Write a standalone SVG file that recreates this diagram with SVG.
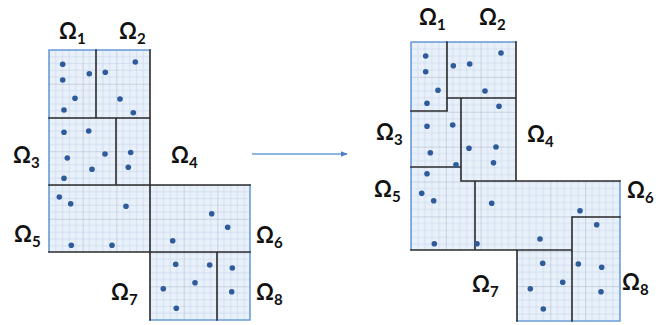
<svg xmlns="http://www.w3.org/2000/svg" width="665" height="325" viewBox="0 0 665 325">
<style>
.lbl{font-family:Lato,"Open Sans","Liberation Sans",sans-serif;font-weight:bold;font-size:22px;fill:#111}
.sub{font-size:15px}
.part{stroke:#2b2b2b;stroke-width:1.6;fill:none;stroke-linecap:square}
.outer{stroke:#6b9fd8;stroke-width:1.6;fill:none;stroke-linecap:square}
.dot{fill:#2f5b9a}
.mn{stroke:#c6d5ea;stroke-width:0.6}
.mj{stroke:#a8b4c5;stroke-width:1}
</style>
<defs>
<pattern id="gl" patternUnits="userSpaceOnUse" x="49" y="50" width="33.67" height="33.75">
<rect width="33.67" height="33.75" fill="#e8f0fa"/>
<g class="mn">
<line x1="6.73" y1="0" x2="6.73" y2="33.75"/><line x1="13.47" y1="0" x2="13.47" y2="33.75"/><line x1="20.2" y1="0" x2="20.2" y2="33.75"/><line x1="26.94" y1="0" x2="26.94" y2="33.75"/>
<line x1="0" y1="6.75" x2="33.67" y2="6.75"/><line x1="0" y1="13.5" x2="33.67" y2="13.5"/><line x1="0" y1="20.25" x2="33.67" y2="20.25"/><line x1="0" y1="27" x2="33.67" y2="27"/>
</g>
<g class="mj"><line x1="0" y1="0" x2="0" y2="33.75"/><line x1="0" y1="0" x2="33.67" y2="0"/></g>
</pattern>
<pattern id="gr" patternUnits="userSpaceOnUse" x="411" y="42" width="34.83" height="34.875">
<rect width="34.83" height="34.875" fill="#e8f0fa"/>
<g class="mn">
<line x1="6.97" y1="0" x2="6.97" y2="34.875"/><line x1="13.93" y1="0" x2="13.93" y2="34.875"/><line x1="20.9" y1="0" x2="20.9" y2="34.875"/><line x1="27.86" y1="0" x2="27.86" y2="34.875"/>
<line x1="0" y1="6.975" x2="34.83" y2="6.975"/><line x1="0" y1="13.95" x2="34.83" y2="13.95"/><line x1="0" y1="20.93" x2="34.83" y2="20.93"/><line x1="0" y1="27.9" x2="34.83" y2="27.9"/>
</g>
<g class="mj"><line x1="0" y1="0" x2="0" y2="34.875"/><line x1="0" y1="0" x2="34.83" y2="0"/></g>
</pattern>
<marker id="ah" viewBox="0 0 10 10" refX="9" refY="5" markerWidth="5" markerHeight="5" orient="auto">
<path d="M0,1 L10,5 L0,9 Z" fill="#4a7fc6"/>
</marker>
</defs>

<g id="before">
<path d="M49,50 H150 V185 H250 V320 H150 V252 H49 Z" fill="url(#gl)"/>
<path class="outer" d="M150,50 H49 V252 M250,185 V320 H150"/>
<path class="part" d="M96,50 V118 M49,118 H150 M116,118 V185 M49,185 H250 M150,50 V320 M49,252 H250 M217,252 V320"/>
<g id="before-dots">
<circle class="dot" cx="62.7" cy="64.3" r="2.8"/><circle class="dot" cx="62.7" cy="80" r="2.8"/><circle class="dot" cx="89.3" cy="73.7" r="2.8"/><circle class="dot" cx="105.3" cy="72.3" r="2.8"/><circle class="dot" cx="135.3" cy="62" r="2.8"/>
<circle class="dot" cx="75" cy="98.3" r="2.8"/><circle class="dot" cx="64" cy="110" r="2.8"/><circle class="dot" cx="120" cy="99" r="2.8"/><circle class="dot" cx="133.3" cy="112.7" r="2.8"/>
<circle class="dot" cx="64" cy="132.3" r="2.8"/><circle class="dot" cx="88.7" cy="131" r="2.8"/><circle class="dot" cx="67.3" cy="158" r="2.8"/><circle class="dot" cx="105" cy="154" r="2.8"/><circle class="dot" cx="130.7" cy="152.5" r="2.8"/>
<circle class="dot" cx="92" cy="169.3" r="2.8"/><circle class="dot" cx="128.3" cy="167.3" r="2.8"/><circle class="dot" cx="64" cy="178.3" r="2.8"/>
<circle class="dot" cx="59.3" cy="197" r="2.8"/><circle class="dot" cx="70.7" cy="203.7" r="2.8"/><circle class="dot" cx="126" cy="206.3" r="2.8"/><circle class="dot" cx="71.3" cy="245.3" r="2.8"/><circle class="dot" cx="112" cy="245.3" r="2.8"/>
<circle class="dot" cx="211.7" cy="213.7" r="2.8"/><circle class="dot" cx="227.7" cy="227.3" r="2.8"/><circle class="dot" cx="172.7" cy="240.7" r="2.8"/>
<circle class="dot" cx="175.7" cy="264.3" r="2.8"/><circle class="dot" cx="209.7" cy="265" r="2.8"/><circle class="dot" cx="232.3" cy="268" r="2.8"/><circle class="dot" cx="195" cy="282.7" r="2.8"/><circle class="dot" cx="163.3" cy="288.7" r="2.8"/><circle class="dot" cx="231.7" cy="291.7" r="2.8"/><circle class="dot" cx="176.3" cy="308.3" r="2.8"/>
</g>
<text class="lbl" x="59" y="39">Ω<tspan class="sub" dy="5">1</tspan></text>
<text class="lbl" x="119" y="39">Ω<tspan class="sub" dy="5">2</tspan></text>
<text class="lbl" x="13" y="163">Ω<tspan class="sub" dy="5">3</tspan></text>
<text class="lbl" x="171" y="163">Ω<tspan class="sub" dy="5">4</tspan></text>
<text class="lbl" x="14" y="242">Ω<tspan class="sub" dy="5">5</tspan></text>
<text class="lbl" x="256" y="243">Ω<tspan class="sub" dy="5">6</tspan></text>
<text class="lbl" x="111" y="300">Ω<tspan class="sub" dy="5">7</tspan></text>
<text class="lbl" x="256" y="300">Ω<tspan class="sub" dy="5">8</tspan></text>
</g>

<g id="after">
<path d="M411,42 H516 V181 H620 V321 H517 V250 H411 Z" fill="url(#gr)"/>
<path class="outer" d="M516,42 H411 V250 M620,181 V321 H517"/>
<path class="part" d="M447,42 V111 H411 M447,98 H516 M461,98 V181 M411,167 H461 M461,181 H620 M475,181 V250 M572,217 H620 M572,217 V321 M411,250 H572 M517,250 V321 M516,42 V181"/>
<g id="after-dots">
<circle class="dot" cx="425.7" cy="56" r="2.8"/><circle class="dot" cx="425.7" cy="71.7" r="2.8"/><circle class="dot" cx="453.3" cy="65.7" r="2.8"/><circle class="dot" cx="469.7" cy="64" r="2.8"/><circle class="dot" cx="501" cy="53" r="2.8"/>
<circle class="dot" cx="438" cy="90.3" r="2.8"/><circle class="dot" cx="427" cy="103.3" r="2.8"/><circle class="dot" cx="485" cy="91" r="2.8"/><circle class="dot" cx="499" cy="106.3" r="2.8"/>
<circle class="dot" cx="427" cy="126.3" r="2.8"/><circle class="dot" cx="452.7" cy="125" r="2.8"/><circle class="dot" cx="469" cy="148.3" r="2.8"/><circle class="dot" cx="496" cy="147" r="2.8"/><circle class="dot" cx="430.3" cy="152.7" r="2.8"/><circle class="dot" cx="493.5" cy="162.8" r="2.8"/><circle class="dot" cx="456" cy="164.7" r="2.8"/><circle class="dot" cx="427" cy="173.8" r="2.8"/>
<circle class="dot" cx="421.7" cy="193.3" r="2.8"/><circle class="dot" cx="433.7" cy="200.7" r="2.8"/><circle class="dot" cx="491.7" cy="203.3" r="2.8"/><circle class="dot" cx="580" cy="210.7" r="2.8"/><circle class="dot" cx="596.7" cy="224.7" r="2.8"/>
<circle class="dot" cx="434.3" cy="243.7" r="2.8"/><circle class="dot" cx="477" cy="243.7" r="2.8"/><circle class="dot" cx="540" cy="239" r="2.8"/>
<circle class="dot" cx="542.7" cy="263.3" r="2.8"/><circle class="dot" cx="578.3" cy="264" r="2.8"/><circle class="dot" cx="601.7" cy="267.3" r="2.8"/><circle class="dot" cx="562.7" cy="282.3" r="2.8"/><circle class="dot" cx="530.3" cy="288.7" r="2.8"/><circle class="dot" cx="601" cy="291.7" r="2.8"/><circle class="dot" cx="543.3" cy="309" r="2.8"/>
</g>
<text class="lbl" x="419" y="25">Ω<tspan class="sub" dy="5">1</tspan></text>
<text class="lbl" x="479" y="25">Ω<tspan class="sub" dy="5">2</tspan></text>
<text class="lbl" x="376" y="140">Ω<tspan class="sub" dy="5">3</tspan></text>
<text class="lbl" x="527" y="142">Ω<tspan class="sub" dy="5">4</tspan></text>
<text class="lbl" x="374" y="197">Ω<tspan class="sub" dy="5">5</tspan></text>
<text class="lbl" x="627" y="198">Ω<tspan class="sub" dy="5">6</tspan></text>
<text class="lbl" x="472" y="292">Ω<tspan class="sub" dy="5">7</tspan></text>
<text class="lbl" x="622" y="290">Ω<tspan class="sub" dy="5">8</tspan></text>
</g>

<g id="connectors">
<line x1="252" y1="154" x2="347" y2="154" stroke="#6b9fd8" stroke-width="1.4" marker-end="url(#ah)"/>
</g>
</svg>
